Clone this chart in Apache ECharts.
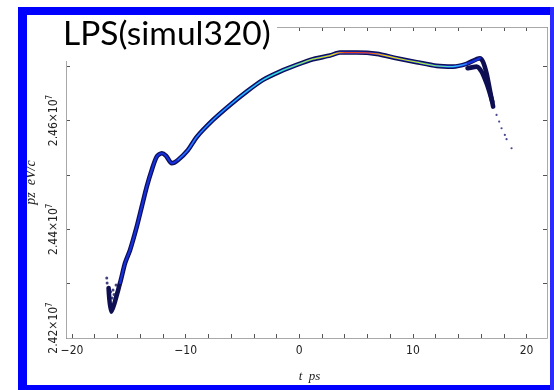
<!DOCTYPE html>
<html>
<head>
<meta charset="utf-8">
<script src="https://cdn.jsdelivr.net/npm/echarts@6/dist/echarts.min.js"></script>
<style>html,body{margin:0;padding:0;background:#fff}#c{width:554px;height:390px}</style>
</head>
<body>
<div id="c"></div>
<script>
// Beam centerline (t in ps, pz in eV/c)
const beamT = [-16.78, -16.56, -15.77, -15.33, -14.89, -14.30, -13.86, -13.42, -12.98, -12.54, -12.10, -11.72, -11.22, -10.67, -9.79, -9.02, -7.59, -6.09, -4.63, -3.19, -1.70, -0.23, 1.20, 2.70, 3.58, 5.05, 6.81, 8.57, 10.33, 12.08, 13.52, 14.72, 15.89, 16.16, 16.48, 16.77, 17.06];
const beamPz = [24292000, 24248400, 24301200, 24338000, 24361900, 24404800, 24441600, 24478400, 24509100, 24533600, 24539800, 24534900, 24521400, 24527500, 24545900, 24569800, 24601100, 24628700, 24653200, 24674700, 24690000, 24702300, 24712800, 24719400, 24725000, 24725000, 24722600, 24714600, 24707300, 24700500, 24699200, 24704200, 24714600, 24708400, 24687000, 24656300, 24625600];
// lower edge of the head hump near t = 16 ps
const humpT = [14.81, 15.60, 16.04, 16.48, 16.77, 16.99];
const humpPz = [24696200, 24699200, 24690000, 24668600, 24650200, 24634200];
// sparse particles
const headT = [-16.94, -16.91, -16.39, -16.21, -16.47, -16.12, -16.60, -16.30];
const headPz = [24310400, 24301200, 24288300, 24269900, 24273600, 24297500, 24285000, 24280000];
const tailT = [17.36, 17.59, 17.80, 18.09, 18.24, 18.68];
const tailPz = [24610300, 24598000, 24585800, 24573500, 24565600, 24549000];
// axis ticks
const xMin = -20, xMax = 21.8, xStep = 2;
const yMin = 24200000, yMax = 24772000, yStep = 100000;
const xLabelVals = [-20, -10, 0, 10, 20];
const yLabelVals = [24200000, 24400000, 24600000];

const zip = (a, b) => a.map((v, i) => [v, b[i]]);
const coreStart = 13, coreEnd = 32;

const narrow = "'Liberation Sans Narrow','DejaVu Sans Condensed',sans-serif";
const serif = "'Liberation Serif','DejaVu Serif',serif";

function xFmt(v) {
  if (!xLabelVals.some(x => Math.abs(x - v) < 1e-6)) return '';
  return v < 0 ? '\u2212' + Math.abs(v) : String(v);
}
function yFmt(v) {
  const hit = yLabelVals.find(y => Math.abs(y - v) < 1);
  if (hit === undefined) return '';
  const txt = (hit / 1e7).toFixed(2) + '\u00d710';
  return (hit === yLabelVals[0] ? '{b|' : '{a|') + txt + '}{s|7}';
}

const chart = echarts.init(document.getElementById('c'), null, {renderer: 'canvas'});
const tickStyle = {inside: true, length: 4, lineStyle: {color: '#555', width: 1}};
const noLine = {show: false, onZero: false};
const labelRich = {
  a: {fontFamily: narrow, fontSize: 12, color: '#222'},
  b: {fontFamily: narrow, fontSize: 12, color: '#222', padding: [0, 0, 0, 20]},
  s: {fontFamily: narrow, fontSize: 8, color: '#222', padding: [0, 0, 8, 0]}
};
const gridLeft = 72, gridRight = 7, gridTop = 27, gridBottom = 52;

chart.setOption({
  animation: false,
  backgroundColor: '#fff',
  grid: {left: gridLeft, right: gridRight, top: gridTop, bottom: gridBottom},
  xAxis: [{
    type: 'value', min: xMin, max: xMax, interval: xStep, position: 'bottom',
    axisLine: noLine, splitLine: {show: false}, axisTick: tickStyle,
    axisLabel: {formatter: xFmt, fontFamily: narrow, fontSize: 12, color: '#222', margin: 7, showMaxLabel: true, hideOverlap: false},
    name: 't  ps', nameLocation: 'middle', nameGap: 32,
    nameTextStyle: {fontFamily: serif, fontStyle: 'italic', fontSize: 13, color: '#222'}
  }, {
    type: 'value', min: xMin, max: xMax, interval: xStep, position: 'top',
    axisLine: noLine, splitLine: {show: false}, axisTick: tickStyle, axisLabel: {show: false}
  }],
  yAxis: [{
    type: 'value', min: yMin, max: yMax, interval: yStep, position: 'left', offset: 6,
    axisLine: noLine, splitLine: {show: false}, axisTick: tickStyle,
    axisLabel: {rotate: 90, formatter: yFmt, rich: labelRich, margin: 4, hideOverlap: false},
    name: 'pz  eV/c', nameLocation: 'middle', nameGap: 26,
    nameTextStyle: {fontFamily: serif, fontStyle: 'italic', fontSize: 14, color: '#222'}
  }, {
    type: 'value', min: yMin, max: yMax, interval: yStep, position: 'right',
    axisLine: noLine, splitLine: {show: false}, axisTick: tickStyle, axisLabel: {show: false}
  }],
  series: [
    {type: 'line', data: zip(beamT, beamPz), symbol: 'none', smooth: 0.25, z: 3,
     lineStyle: {color: '#0e0e52', width: 4.6, cap: 'round', join: 'round'}},
    {type: 'line', data: zip(humpT, humpPz), symbol: 'none', smooth: 0.25, z: 3,
     lineStyle: {color: '#0e0e52', width: 4.6, cap: 'round', join: 'round'}},
    {type: 'scatter', data: zip(headT, headPz), symbolSize: 3, z: 3, itemStyle: {color: '#14145e'}},
    {type: 'scatter', data: zip(tailT, tailPz), symbolSize: 2.2, z: 3, itemStyle: {color: '#1a1a70'}},
    {type: 'line', data: zip(beamT, beamPz).slice(2, 33), symbol: 'none', smooth: 0.25, z: 4,
     lineStyle: {color: '#1530e0', width: 2.2, cap: 'round', join: 'round'}},
    {type: 'line', data: zip(beamT, beamPz).slice(coreStart, coreEnd), symbol: 'none', smooth: 0.25, z: 5,
     lineStyle: {width: 1.2, cap: 'round', join: 'round', color: {
       type: 'linear', x: 0, y: 0, x2: 1, y2: 0, colorStops: [
         {offset: 0, color: '#2b6cff'}, {offset: 0.184, color: '#1fb8ff'},
         {offset: 0.34, color: '#2fe8c8'}, {offset: 0.46, color: '#a6f03c'},
         {offset: 0.538, color: '#ffe600'}, {offset: 0.578, color: '#e8401a'},
         {offset: 0.657, color: '#e8401a'}, {offset: 0.716, color: '#ffd800'},
         {offset: 0.854, color: '#a6f03c'}, {offset: 0.952, color: '#35d0ff'},
         {offset: 1, color: '#2b6cff'}]}}}
  ],
  graphic: [
    {type: 'rect', z: 1, shape: {x: 66.5, y: 27.5, width: 481, height: 311},
     style: {fill: null, stroke: '#a8a8a8', lineWidth: 1}},
    {type: 'rect', z: 100, shape: {x: 60, y: 15, width: 217, height: 46}, style: {fill: '#fff'}},
    {type: 'text', z: 101, left: 63, top: 17,
     style: {text: 'LPS(simul320)', font: "33.5px Lato, 'Liberation Sans', sans-serif", fill: '#000'}},
    {type: 'rect', z: 100, shape: {x: 18, y: 7, width: 9, height: 383}, style: {fill: '#0000ff'}},
    {type: 'rect', z: 100, shape: {x: 18, y: 7, width: 536, height: 8}, style: {fill: '#0000ff'}},
    {type: 'rect', z: 100, shape: {x: 18, y: 385, width: 536, height: 5}, style: {fill: '#0000ff'}},
    {type: 'rect', z: 100, shape: {x: 550, y: 7, width: 4, height: 383}, style: {fill: '#2a2aff'}}
  ]
});
</script>
</body>
</html>
